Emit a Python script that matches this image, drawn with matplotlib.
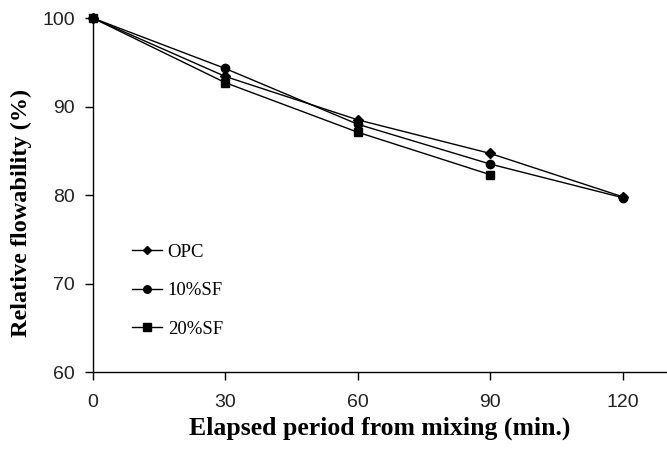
import matplotlib
matplotlib.use("Agg")
import matplotlib.pyplot as plt

# elapsed time (min) and relative flowability (%)
minutes = [0, 30, 60, 90, 120]
opc = [100.0, 93.4, 88.5, 84.7, 79.8]
sf10 = [100.0, 94.3, 88.0, 83.5, 79.7]
minutes_sf20 = [0, 30, 60, 90]
sf20 = [100.0, 92.7, 87.1, 82.3]

serif = "Liberation Serif"
sans = "Liberation Sans"

fig = plt.figure(figsize=(6.67, 4.51), dpi=100)
ax = fig.add_axes([0.139, 0.175, 0.861, 0.785])

ax.plot(minutes, opc, color="black", lw=1.0, marker="D", ms=5, label="OPC", clip_on=False)
ax.plot(minutes, sf10, color="black", lw=1.0, marker="o", ms=6, label="10%SF", clip_on=False)
ax.plot(minutes_sf20, sf20, color="black", lw=1.0, marker="s", ms=6, label="20%SF", clip_on=False)

# x axis runs a bit past the last tick, as in the original
ax.set_xlim(0, 130)
ax.set_ylim(60, 100)
ax.set_xticks([0, 30, 60, 90, 120])
ax.set_yticks([60, 70, 80, 90, 100])

for side in ["top", "right"]:
    ax.spines[side].set_visible(False)
for side in ["left", "bottom"]:
    ax.spines[side].set_linewidth(1.0)

ax.tick_params(direction="out", length=6, width=1.0, labelsize=14, pad=7)
ax.tick_params(axis="x", pad=10)
for lbl in ax.get_xticklabels() + ax.get_yticklabels():
    lbl.set_fontfamily(sans)
    lbl.set_color("#222222")

ax.set_xlabel("Elapsed period from mixing (min.)", fontfamily=serif, fontsize=18.5,
              fontweight="bold")
ax.set_ylabel("Relative flowability (%)", fontfamily=serif, fontsize=17.5,
              fontweight="bold")
ax.xaxis.set_label_coords(0.5, -0.125)
ax.yaxis.set_label_coords(-0.105, 0.45)

leg = ax.legend(loc="upper left", bbox_to_anchor=(0.0385, 0.41), frameon=False,
                prop={"family": serif, "size": 13.5}, handlelength=1.6,
                handletextpad=0.32, labelspacing=1.13, markerscale=0.9)

fig.savefig("out.png", dpi=100)
